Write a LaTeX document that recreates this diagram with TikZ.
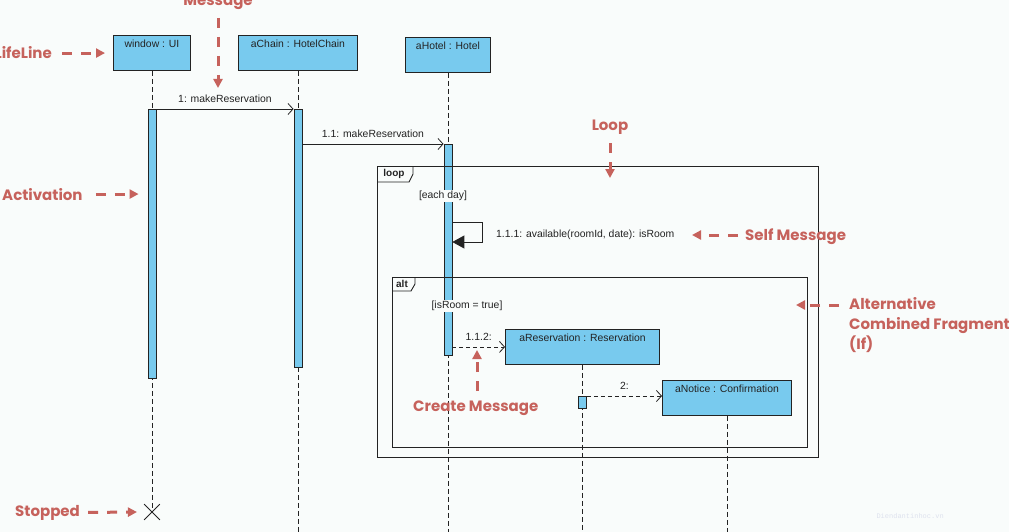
\documentclass[tikz,border=0pt]{standalone}
\usepackage{fontspec}
\setmainfont{Liberation Sans}
\newfontfamily\annfont{Poppins}
\newfontfamily\wmfont{Liberation Mono}
\usetikzlibrary{arrows.meta,shapes.misc,calc}
\definecolor{bg}{RGB}{249,252,251}
\definecolor{boxblue}{RGB}{120,202,238}
\definecolor{ann}{RGB}{198,98,92}
\definecolor{ink}{RGB}{35,35,35}
\definecolor{wm}{RGB}{222,226,238}
\begin{document}
\begin{tikzpicture}[x=1pt,y=-1pt,
  txt/.style={font=\fontsize{10.4}{12}\selectfont, text=ink, inner sep=1pt},
  head/.style={draw=ink, fill=boxblue, line width=0.9pt, anchor=north west,
    inner xsep=2pt, inner ysep=3pt, text height=9pt, text depth=20pt,
    font=\fontsize{10.4}{12}\selectfont, text=ink},
  act/.style={draw=ink, fill=boxblue, line width=0.8pt, minimum width=8pt, inner sep=0pt, anchor=north},
  lifeline/.style={draw=ink, line width=0.8pt, dash pattern=on 5pt off 3pt},
  msg/.style={draw=ink, line width=0.8pt, -{Straight Barb[length=5pt,width=11pt,line width=0.8pt]}},
  create/.style={msg, dash pattern=on 4pt off 3pt},
  selfmsg/.style={draw=ink, line width=0.8pt, -{Triangle[length=12pt,width=13pt]}},
  frame/.style={draw=ink, line width=0.9pt, anchor=north west, inner sep=0pt},
  tab/.style={font=\bfseries\fontsize{10}{12}\selectfont, text=ink, inner sep=0pt},
  guard/.style={txt, fill=bg, inner xsep=1pt, inner ysep=1.5pt},
  ann/.style={font=\annfont\bfseries\fontsize{15}{20}\selectfont, text=ann, inner sep=0pt},
  annarrow/.style={draw=ann, line width=3pt, dash pattern=on 10pt off 9pt, -{Triangle[length=9pt,width=9pt]}}
]
\useasboundingbox (0,0) rectangle (1009,532);
\fill[bg] (0,0) rectangle (1009,532);

% lifeline heads
\node[head, minimum width=77pt, minimum height=35pt] (w) at (113,35) {window : UI};
\node[head, minimum width=119pt, minimum height=35pt] (c) at (238,35) {aChain : HotelChain};
\node[head, minimum width=85pt, minimum height=35pt] (h) at (405,37) {aHotel : Hotel};

% stop
\node[draw=ink, cross out, line width=0.8pt, minimum size=15pt, inner sep=0pt] (stop) at (w.south |- 0,512) {};

% lifelines
\draw[lifeline] (w.south) -- (stop.center);
\coordinate (cEnd) at (c.south |- 0,532);
\draw[lifeline] (c.south) -- (cEnd);
\coordinate (hEnd) at (h.south |- 0,532);
\draw[lifeline] (h.south) -- (hEnd);

% activations
\node[act, minimum height=269pt] (aW) at (w.south |- 0,109) {};
\node[act, minimum height=258pt] (aC) at (c.south |- 0,109) {};
\node[act, minimum height=211pt] (aH) at (h.south |- 0,144) {};

% created objects
\node[head, minimum width=154pt, minimum height=34pt] (r) at (505,329) {aReservation : Reservation};
\node[head, minimum width=129pt, minimum height=35pt] (n) at (662,380) {aNotice : Confirmation};
\coordinate (rEnd) at (r.south |- 0,532);
\draw[lifeline] (r.south) -- (rEnd);
\coordinate (nEnd) at (n.south |- 0,532);
\draw[lifeline] (n.south) -- (nEnd);
\node[act, minimum height=12pt] (aR) at (r.south |- 0,396) {};

% messages
\draw[msg] (aW.north east) -- (aC.north west)
  node[txt, midway, above=5pt] {1: makeReservation};
\coordinate (m11) at (aC.east |- 0,144);
\draw[msg] (m11) -- (aH.north west)
  node[txt, midway, above=5pt] {1.1: makeReservation};
\draw[selfmsg] (aH.east |- 0,222) -- ++(30,0) |- (aH.east |- 0,242);
\node[txt, anchor=west] (sm) at (495,235) {1.1.1: available(roomId, date): isRoom};
\draw[create] (aH.east |- r.west) -- (r.west)
  node[txt, midway, above=5pt] {1.1.2:};
\draw[create] (aR.north east) -- (n.west |- aR.north east)
  node[txt, midway, above=5pt] {2:};

% frames
\node[frame, minimum width=441pt, minimum height=291pt] (loopF) at (377,166) {};
\draw[draw=ink, line width=0.9pt] (loopF.north west) ++(36,0) -- ++(0,8) -- ++(-4,8) -- ++(-32,0);
\node[tab] (loopT) at ($(loopF.north west)+(17,8)$) {loop};
\node[frame, minimum width=415pt, minimum height=170pt] (altF) at (392,277) {};
\draw[draw=ink, line width=0.9pt] (altF.north west) ++(23,0) -- ++(0,7) -- ++(-4,7) -- ++(-19,0);
\node[tab] (altT) at ($(altF.north west)+(10,7)$) {alt};

% guards
\node[guard] (g1) at (443,196) {[each day]};
\node[guard] (g2) at (467,306) {[isRoom = true]};

% annotations
\node[ann, anchor=base] (tMsg) at (218,6) {Message};
\coordinate (pMsg) at (218,88);
\draw[annarrow] (218,18) -- (pMsg);

\node[ann, anchor=base east] (tLife) at (52,59) {LifeLine};
\draw[annarrow] ([xshift=10pt,yshift=0pt]tLife.east) -- ([xshift=-8pt]w.west |- tLife.east);

\node[ann, anchor=base west] (tAct) at (2,200) {Activation};
\draw[annarrow] ([xshift=13pt]tAct.east) -- ([xshift=-9pt]aW.west |- tAct.east);

\node[ann, anchor=base west] (tStop) at (15,516) {Stopped};
\draw[annarrow] ([xshift=8pt]tStop.east) -- ([xshift=-15pt]stop.center);

\node[ann, anchor=base] (tLoop) at (610,131) {Loop};
\draw[annarrow] ([yshift=-8pt]tLoop.south) -- ([yshift=-12pt]loopF.north -| tLoop.south);

\node[ann, anchor=base west] (tSelf) at (745,240) {Self Message};
\coordinate (pSelf) at (692,235);
\draw[annarrow] ([xshift=-7pt]tSelf.west |- pSelf) -- (pSelf);

\node[ann, anchor=north west, align=left] (tAlt) at (849,297) {Alternative\\Combined Fragment\\(If)};
\coordinate (pAlt) at (796,305);
\draw[annarrow] (839,305) -- (pAlt);

\node[ann, anchor=base west] (tCre) at (413,411) {Create Message};
\coordinate (pCre) at (477,350);
\draw[annarrow] (477,391) -- (pCre);

% watermark
\node[font=\wmfont\fontsize{7}{8}\selectfont, text=wm, anchor=base west] (wmark) at (873,518) {Diendantinhoc.vn};
\end{tikzpicture}
\end{document}
